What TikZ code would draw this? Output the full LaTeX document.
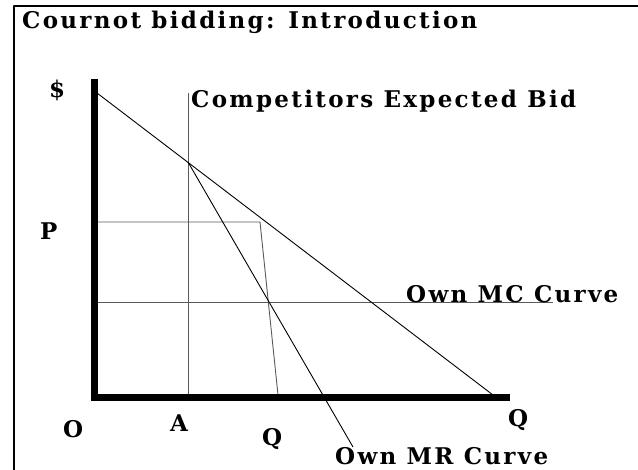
\documentclass[tikz,border=0pt]{standalone}
\usepackage{fontspec}
\setmainfont{DejaVu Serif}[LetterSpace=10]
\begin{document}
\begin{tikzpicture}[x=1pt, y=-1pt, line join=round, font=\bfseries\fontsize{23}{27}\selectfont,
	lbl/.style={anchor=base west, inner sep=0pt},
	curve/.style={line width=0.9pt},
	guide/.style={line width=0.9pt, black!65},
	axis/.style={line width=7pt}]
	\useasboundingbox (0,0) rectangle (638,470);
	% frame (top and left only)
	\draw[line width=2pt] (13.5,470) -- (13.5,6.5) -- (638,6.5);
	\node[lbl] (title) at (22,29) {Cournot bidding: Introduction};
	% key points
	\coordinate (yTop) at (94,79);
	\coordinate (xEnd) at (510,398);
	\coordinate (dA) at (97,93);
	\coordinate (dB) at (493,395);
	\coordinate (bidTop) at (188,93);
	\coordinate (bidBot) at (188,395);
	\coordinate (pL) at (97,222);
	\coordinate (pR) at (260,222);
	\coordinate (qBid) at (278,395);
	\coordinate (mcL) at (97,302);
	\coordinate (mcR) at (553,302);
	\coordinate (mrA) at (188,162);
	\coordinate (mrB) at (353,447);
	% guides and curves
	\draw[guide] (bidTop) -- (bidBot);
	\draw[guide] (pL) -- (pR) -- (qBid);
	\draw[guide] (mcL) -- (mcR);
	\draw[curve] (dA) -- (dB);
	\draw[curve] (mrA) -- (mrB);
	% axes
	\draw[axis] (yTop) -- (94,401.5);
	\draw[axis] (90.5,398) -- (xEnd);
	% labels
	\node[lbl] (dollar) at (49,98) {\$};
	\node[lbl] (p) at (40,240) {P};
	\node[lbl] (o) at (63,438) {O};
	\node[lbl] (a) at (170,432) {A};
	\node[lbl] (q) at (262,446) {Q};
	\node[lbl] (qmax) at (508,427) {Q};
	\node[lbl] (bid) at (191,108) {Competitors Expected Bid};
	\node[lbl] (mc) at (406,303) {Own MC Curve};
	\node[lbl] (mr) at (335,465) {Own MR Curve};
\end{tikzpicture}
\end{document}
